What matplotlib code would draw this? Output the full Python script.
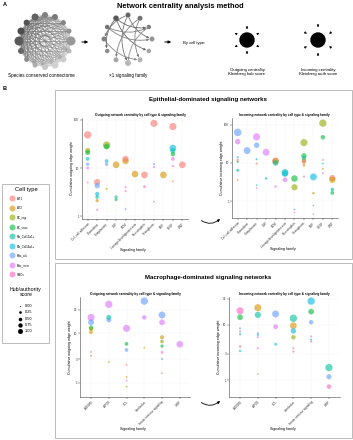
import matplotlib
matplotlib.use("Agg")
import matplotlib.pyplot as plt
import numpy as np
from matplotlib.patches import Circle, FancyArrowPatch, Rectangle
from matplotlib.ticker import FixedLocator, NullLocator

plt.rcParams['font.family'] = ['Liberation Sans', 'DejaVu Sans']

W, H = 353, 440

# ---------------- data ----------------
cell_types = ["AT1", "AT2", "EC_cap", "EC_vasc", "Fib_Col13a1+", "Fib_Col14a1+",
              "Mac_alv", "Mac_inter", "SMCs"]
cell_colors = ["#F8766D", "#D39200", "#93AA00", "#00BA38", "#00C19F", "#00B9E3",
               "#619CFF", "#DB72FB", "#FF61C3"]

epi_families = ["Cell-cell adhesion", "Chemokine", "Complement", "CSF", "ECM",
                "Lineage/development axis", "Neurotrophin", "Semaphorin", "EGF",
                "VEGF", "WNT"]
mac_families = ["ADGRE", "APOE", "CCL", "Interleukin", "Innate immune signaling", "SIRP"]

# Epithelial-dominated, outgoing
epi_out_fam = [0, 0, 0, 0, 0, 0, 0,
               1, 1, 1, 1, 1, 1,
               2, 2, 2, 2, 2,
               3, 3, 3,
               4, 4, 4, 4, 4,
               5,
               6, 6,
               7, 7, 7, 7,
               8,
               9, 9, 9, 9, 9, 9, 9,
               10]
epi_out_cell = ["AT1", "EC_cap", "EC_vasc", "Fib_Col13a1+", "Mac_alv", "Mac_inter", "SMCs",
                "AT1", "Mac_alv", "Fib_Col14a1+", "Fib_Col13a1+", "AT2", "Mac_inter",
                "EC_cap", "EC_vasc", "Fib_Col14a1+", "Mac_alv", "AT2",
                "AT2", "Fib_Col13a1+", "EC_vasc",
                "AT1", "AT2", "Mac_inter", "SMCs", "Mac_alv",
                "AT2",
                "AT1", "SMCs",
                "AT1", "Mac_alv", "Mac_inter", "SMCs",
                "AT2",
                "AT1", "Fib_Col14a1+", "Fib_Col13a1+", "EC_vasc", "Mac_inter", "SMCs", "AT1",
                "AT1"]
epi_out_weight = [49, 23, 21, 15.5, 12, 10, 5,
                  5.1, 4.3, 2.9, 2.5, 2.1, 1.35,
                  30, 28, 14, 12, 3.7,
                  11.7, 2.5, 2.2,
                  15.5, 14, 4, 3.3, 1.4,
                  7.5,
                  7.2, 4.1,
                  85, 12, 10.5, 2,
                  7.2,
                  73, 26, 23, 19.5, 15.5, 11, 5.3,
                  11.7]
epi_out_score = [0.85, 0.45, 0.35, 0.2, 0.15, 0.1, 0.03,
                 0.6, 0.45, 0.25, 0.2, 0.15, 0.05,
                 0.85, 0.5, 0.2, 0.15, 0.05,
                 0.7, 0.15, 0.12,
                 0.6, 0.65, 0.05, 0.05, 0.03,
                 0.7,
                 0.7, 0.1,
                 0.8, 0.05, 0.05, 0.03,
                 0.7,
                 0.8, 0.7, 0.4, 0.3, 0.2, 0.05, 0.03,
                 0.7]

# Epithelial-dominated, incoming
epi_in_fam = [0, 0, 0, 0, 0, 0, 0,
              1,
              2, 2, 2, 2, 2, 2,
              3, 3,
              4, 4, 4, 4,
              5, 5, 5,
              6, 6, 6, 6,
              7, 7, 7, 7, 7, 7, 7,
              8, 8, 8, 8,
              9, 9, 9, 9, 9, 9,
              10, 10, 10, 10]
epi_in_cell = ["Mac_alv", "Mac_inter", "Fib_Col14a1+", "AT1", "EC_vasc", "Fib_Col13a1+", "AT2",
               "Mac_alv",
               "Mac_inter", "Mac_alv", "Fib_Col14a1+", "AT1", "Fib_Col13a1+", "SMCs",
               "Mac_inter", "Fib_Col13a1+",
               "AT1", "AT2", "Fib_Col13a1+", "Mac_inter",
               "Fib_Col13a1+", "Fib_Col14a1+", "Mac_inter",
               "EC_vasc", "EC_cap", "Mac_alv", "Mac_inter",
               "EC_cap", "EC_vasc", "Fib_Col13a1+", "AT2", "AT1", "AT2", "SMCs",
               "Fib_Col14a1+", "AT2", "Mac_alv", "Mac_inter",
               "EC_cap", "EC_vasc", "AT1", "Fib_Col14a1+", "AT2", "SMCs",
               "AT1", "AT2", "Fib_Col13a1+", "EC_vasc"]
epi_in_weight = [63, 36, 14, 11.8, 10.6, 6.4, 3.6,
                 21,
                 48, 29, 12.5, 9.6, 2.6, 2.2,
                 19, 3.9,
                 11.3, 11, 10, 2.4,
                 5.6, 5.2, 3.6,
                 3.9, 2.3, 0.6, 0.5,
                 34, 15.3, 13, 11.3, 10.6, 8.7, 4.4,
                 4.3, 1.6, 0.76, 0.46,
                 110, 47, 12, 9.6, 7, 5.4,
                 4.0, 3.6, 2.0, 1.64]
epi_in_score = [0.9, 0.45, 0.05, 0.08, 0.04, 0.12, 0.03,
                0.75,
                0.8, 0.45, 0.05, 0.04, 0.02, 0.02,
                0.75, 0.08,
                0.7, 0.6, 0.5, 0.08,
                0.75, 0.6, 0.35,
                0.65, 0.6, 0.03, 0.02,
                0.8, 0.45, 0.3, 0.3, 0.2, 0.1, 0.05,
                0.75, 0.08, 0.03, 0.02,
                0.85, 0.3, 0.03, 0.03, 0.03, 0.03,
                0.6, 0.6, 0.2, 0.2]

# Macrophage-dominated, outgoing
mac_out_fam = [0, 0, 0, 0, 0, 0, 0,
               1, 1, 1, 1,
               2, 2, 2, 2, 2, 2, 2,
               3, 3, 3,
               4, 4, 4, 4, 4, 4, 4, 4,
               5]
mac_out_cell = ["Mac_inter", "Mac_alv", "EC_vasc", "EC_cap", "AT2", "AT1", "AT2",
                "Mac_inter", "Fib_Col13a1+", "Mac_alv", "EC_cap",
                "Mac_inter", "EC_vasc", "Mac_alv", "AT1", "AT2", "SMCs", "EC_cap",
                "Mac_alv", "Mac_inter", "AT2",
                "Mac_alv", "Mac_inter", "AT2", "EC_cap", "EC_vasc", "SMCs", "Mac_alv", "AT1",
                "Mac_inter"]
mac_out_weight = [21, 16.7, 13, 12.2, 10.5, 4.2, 3.5,
                  38.7, 21, 18.6, 2.6,
                  12.6, 6.1, 4.6, 2.3, 1.3, 1.1, 0.83,
                  45, 21, 5.1,
                  23.5, 16.7, 8.3, 6.8, 5.5, 4.1, 3.0, 1.55,
                  6.0]
mac_out_score = [0.8, 0.55, 0.3, 0.25, 0.2, 0.04, 0.04,
                 0.85, 0.4, 0.35, 0.03,
                 0.8, 0.2, 0.2, 0.03, 0.03, 0.03, 0.03,
                 0.85, 0.3, 0.03,
                 0.75, 0.5, 0.25, 0.2, 0.15, 0.1, 0.05, 0.03,
                 0.7]

# Macrophage-dominated, incoming
mac_in_fam = [0, 0, 0, 0, 0, 0, 0,
              1, 1, 1, 1, 1, 1, 1,
              2, 2, 2,
              3, 3, 3, 3, 3, 3,
              4, 4, 4, 4, 4, 4,
              5, 5, 5]
mac_in_cell = ["SMCs", "EC_vasc", "Mac_alv", "Mac_inter", "Fib_Col13a1+", "AT1", "Fib_Col14a1+",
               "AT2", "Fib_Col13a1+", "Mac_alv", "Fib_Col14a1+", "Mac_inter", "SMCs", "EC_cap",
               "Mac_alv", "Mac_inter", "Fib_Col14a1+",
               "Fib_Col13a1+", "AT2", "Fib_Col14a1+", "EC_cap", "SMCs", "AT1",
               "Fib_Col14a1+", "EC_vasc", "Mac_alv", "Mac_inter", "Fib_Col13a1+", "SMCs",
               "Fib_Col13a1+", "Mac_alv", "SMCs"]
mac_in_weight = [18, 13.8, 8.7, 7.6, 6.8, 4.1, 3.4,
                 20.5, 15.2, 7.1, 6.6, 6.0, 3.8, 1.3,
                 15.8, 9.3, 4.5,
                 13.2, 9.7, 7.8, 6.0, 3.8, 3.3,
                 27, 17.4, 11.2, 6.2, 5.4, 5.0,
                 1.7, 1.16, 0.77]
mac_in_score = [0.8, 0.5, 0.05, 0.05, 0.05, 0.08, 0.06,
                0.8, 0.6, 0.05, 0.05, 0.05, 0.05, 0.02,
                0.75, 0.35, 0.1,
                0.85, 0.7, 0.45, 0.3, 0.05, 0.05,
                0.85, 0.5, 0.3, 0.05, 0.05, 0.05,
                0.85, 0.4, 0.3]

score_legend = [0.00, 0.25, 0.50, 0.75, 1.00]

# schematic network (panel A)
g1_gray = [0.50, 0.38, 0.33, 0.30, 0.35, 0.40, 0.55, 0.68, 0.78, 0.82, 0.80, 0.72,
           0.60, 0.58, 0.52, 0.48]
g1_diam = [6, 7, 6, 7, 9, 6, 5, 5, 6, 7, 6, 5, 9, 5, 5, 6]
g2_gray = [0.40, 0.35, 0.45, 0.50, 0.55, 0.65, 0.72, 0.70, 0.65, 0.58, 0.50, 0.45]
g2_diam = [5, 5.5, 4.5, 5, 4.5, 5, 6, 5, 4.5, 5, 4.5, 5]
g2_edges = [(0, 6), (1, 8), (2, 9), (3, 7), (0, 9), (11, 5), (2, 10), (1, 4), (10, 6),
            (0, 3), (11, 7), (1, 10)]

# ---------------- figure ----------------
fig = plt.figure(figsize=(W / 100, H / 100), dpi=100)
ov = fig.add_axes([0, 0, 1, 1])
ov.set_xlim(0, W)
ov.set_ylim(H, 0)
ov.axis('off')


def px_rect(l, t, r, b):
    return [l / W, 1 - b / H, (r - l) / W, (b - t) / H]


# ---- Panel A ----
ov.text(3, 5, "A", fontsize=4, fontweight='bold', va='center', ha='left')
ov.text(180, 6, "Network centrality analysis method", fontsize=5.4, fontweight='bold',
        ha='center', va='center')


def ring(cx, cy, r, n):
    ang = np.deg2rad(90 + np.arange(n) * 360.0 / n)
    return cx + r * np.cos(ang), cy - r * np.sin(ang)


x1, y1 = ring(45, 41, 26, len(g1_gray))
for i in range(len(x1)):
    for j in range(i + 1, len(x1)):
        g = min(g1_gray[i], g1_gray[j])
        ov.plot([x1[i], x1[j]], [y1[i], y1[j]], color=str(min(0.75, g + 0.12)),
                lw=0.6 if g < 0.45 else 0.4, alpha=0.75, zorder=1)
ov.scatter(x1, y1, s=[(d * 0.72) ** 2 for d in g1_diam], c=[str(g) for g in g1_gray],
           zorder=2, linewidths=0)

x2, y2 = ring(128, 39, 24, len(g2_gray))
for (i, j) in g2_edges:
    ov.add_patch(FancyArrowPatch((x2[i], y2[i]), (x2[j], y2[j]),
                                 connectionstyle="arc3,rad=0.25", arrowstyle='-|>',
                                 mutation_scale=3, lw=0.6,
                                 color=str(min(0.7, min(g2_gray[i], g2_gray[j]) + 0.05)),
                                 zorder=1))
ov.scatter(x2, y2, s=[(d * 0.72) ** 2 for d in g2_diam], c=[str(g) for g in g2_gray],
           zorder=2, linewidths=0)

for xa in (79, 162):
    ov.add_patch(FancyArrowPatch((xa, 42), (xa + 12, 42), arrowstyle='-|>',
                                 mutation_scale=4, lw=0.7, color='black'))

ov.text(194, 43, "By cell type:", fontsize=3, ha='center', va='center')
for cx, outward in ((247, True), (318, False)):
    ov.add_patch(Circle((cx, 40), 7, color='black', zorder=3))
    for a in (90, 30, -30, -90, -150, 150):
        ca, sa = np.cos(np.deg2rad(a)), -np.sin(np.deg2rad(a))
        p_in = (cx + 10 * ca, 40 + 10 * sa)
        p_out = (cx + 17 * ca, 40 + 17 * sa)
        s, e = (p_in, p_out) if outward else (p_out, p_in)
        ov.add_patch(FancyArrowPatch(s, e, arrowstyle='-|>', mutation_scale=3,
                                     lw=0.5, color='black'))

ov.text(41, 75, "Species conserved connectome", fontsize=3.3, ha='center', va='center')
ov.text(128, 75, "\u00d71 signaling family", fontsize=3.3, ha='center', va='center')
ov.text(247, 72, "Outgoing centrality\nKleinberg hub score", fontsize=3.1, ha='center',
        va='center', linespacing=1.3)
ov.text(318, 72, "Incoming centrality\nKleinberg auth score", fontsize=3.1, ha='center',
        va='center', linespacing=1.3)

# ---- Panel B ----
ov.text(3, 88, "B", fontsize=4, fontweight='bold', va='center', ha='left')
for (t, b, title, ty) in ((90, 259, "Epithelial-dominated signaling networks", 99),
                          (263, 438, "Macrophage-dominated signaling networks", 277)):
    ov.add_patch(Rectangle((55, t), 297, b - t, fill=False, edgecolor='#b0b0b0', lw=0.6))
    ov.text(208, ty, title, fontsize=4.4, fontweight='bold', ha='center', va='center')

# legend
ov.add_patch(Rectangle((2, 184), 47, 159, facecolor='white', edgecolor='#b0b0b0', lw=0.6))
ov.text(26, 190, "Cell type", fontsize=4.2, ha='center', va='center')
for k, (nm, col) in enumerate(zip(cell_types, cell_colors)):
    yy = 198.5 + k * 9.5
    ov.scatter([12], [yy], s=(6 * 0.72) ** 2, color=col, alpha=0.6, linewidths=0)
    ov.text(17, yy, nm, fontsize=2.1, ha='left', va='center')
ov.text(26, 292, "Hub/authority\nscore", fontsize=3.8, ha='center', va='center',
        linespacing=1.25)
for k, sc in enumerate(score_legend):
    yy = 306 + k * 6.3
    d = np.sqrt(1 + 24 * sc)
    ov.scatter([20], [yy], s=(d * 0.72) ** 2, color='black', linewidths=0)
    ov.text(25, yy, f"{sc:.2f}", fontsize=2.8, ha='left', va='center')


def size_of(score):
    d = np.sqrt(1.5 + 62 * score)
    return (d * 0.72) ** 2


def panel(box, fams, fam, cells, weights, scores, ylim, yticks, ylabel, subtitle, sub_x):
    l, t, r, b = box
    ax = fig.add_axes(px_rect(l, t, r, b))
    order = np.argsort(-np.array(scores), kind='stable')
    xs = [fam[i] for i in order]
    ys = [weights[i] for i in order]
    cs = [cell_colors[cell_types.index(cells[i])] for i in order]
    ss = [size_of(scores[i]) for i in order]
    ax.scatter(xs, ys, s=ss, c=cs, alpha=0.6, linewidths=0, zorder=3)
    ax.set_yscale('log')
    ax.set_ylim(*ylim)
    ax.set_xlim(-0.6, len(fams) - 0.4)
    ax.yaxis.set_major_locator(FixedLocator(yticks))
    ax.yaxis.set_minor_locator(NullLocator())
    ax.set_yticklabels([str(v) for v in yticks])
    ax.set_xticks(range(len(fams)))
    ax.set_xticklabels(fams, rotation=45, ha='right', rotation_mode='anchor')
    for sp in ('top', 'right'):
        ax.spines[sp].set_visible(False)
    for sp in ('left', 'bottom'):
        ax.spines[sp].set_linewidth(0.4)
        ax.spines[sp].set_color('#444444')
    ax.tick_params(length=1.2, width=0.3, pad=1, labelsize=2.2, colors='#333333')
    ax.grid(True, color='#f2f2f2', lw=0.3)
    ax.set_axisbelow(True)
    ax.patch.set_alpha(0)
    ov.text(l - 10, (t + b) / 2, ylabel, rotation=90, fontsize=2.6, ha='center', va='center')
    ov.text((l + r) / 2 - 2, b + 31 if len(fams) > 6 else b + 32, "Signaling family",
            fontsize=2.6, ha='center', va='center')
    ov.text(sub_x, t - 3, subtitle, fontsize=2.35, fontweight='bold', ha='center', va='center')
    return ax


sub_out = "Outgoing network centrality by cell type & signaling family"
sub_in = "Incoming network centrality by cell type & signaling family"

panel((82, 118, 188, 219), epi_families, epi_out_fam, epi_out_cell, epi_out_weight,
      epi_out_score, (0.87, 110), [1, 10, 100], "Cumulative outgoing edge weight", sub_out, 140)
panel((232, 118, 338, 218), epi_families, epi_in_fam, epi_in_cell, epi_in_weight,
      epi_in_score, (0.36, 150), [1, 10, 100], "Cumulative incoming edge weight", sub_in, 284)
panel((80.4, 297, 190.4, 397), mac_families, mac_out_fam, mac_out_cell, mac_out_weight,
      mac_out_score, (0.51, 54.5), [1, 3, 10, 30], "Cumulative outgoing edge weight", sub_out, 135)
panel((229.4, 297, 339.6, 397), mac_families, mac_in_fam, mac_in_cell, mac_in_weight,
      mac_in_score, (0.5, 32), [1, 3, 10, 30], "Cumulative incoming edge weight", sub_in, 284)

# curved arrows between panels (sagging downward)
for yy in (219, 401):
    ov.add_patch(FancyArrowPatch((199, yy), (222, yy - 2), connectionstyle="arc3,rad=0.45",
                                 arrowstyle='-|>', mutation_scale=3.5, lw=0.6, color='black'))

fig.savefig("out.png", dpi=100)
